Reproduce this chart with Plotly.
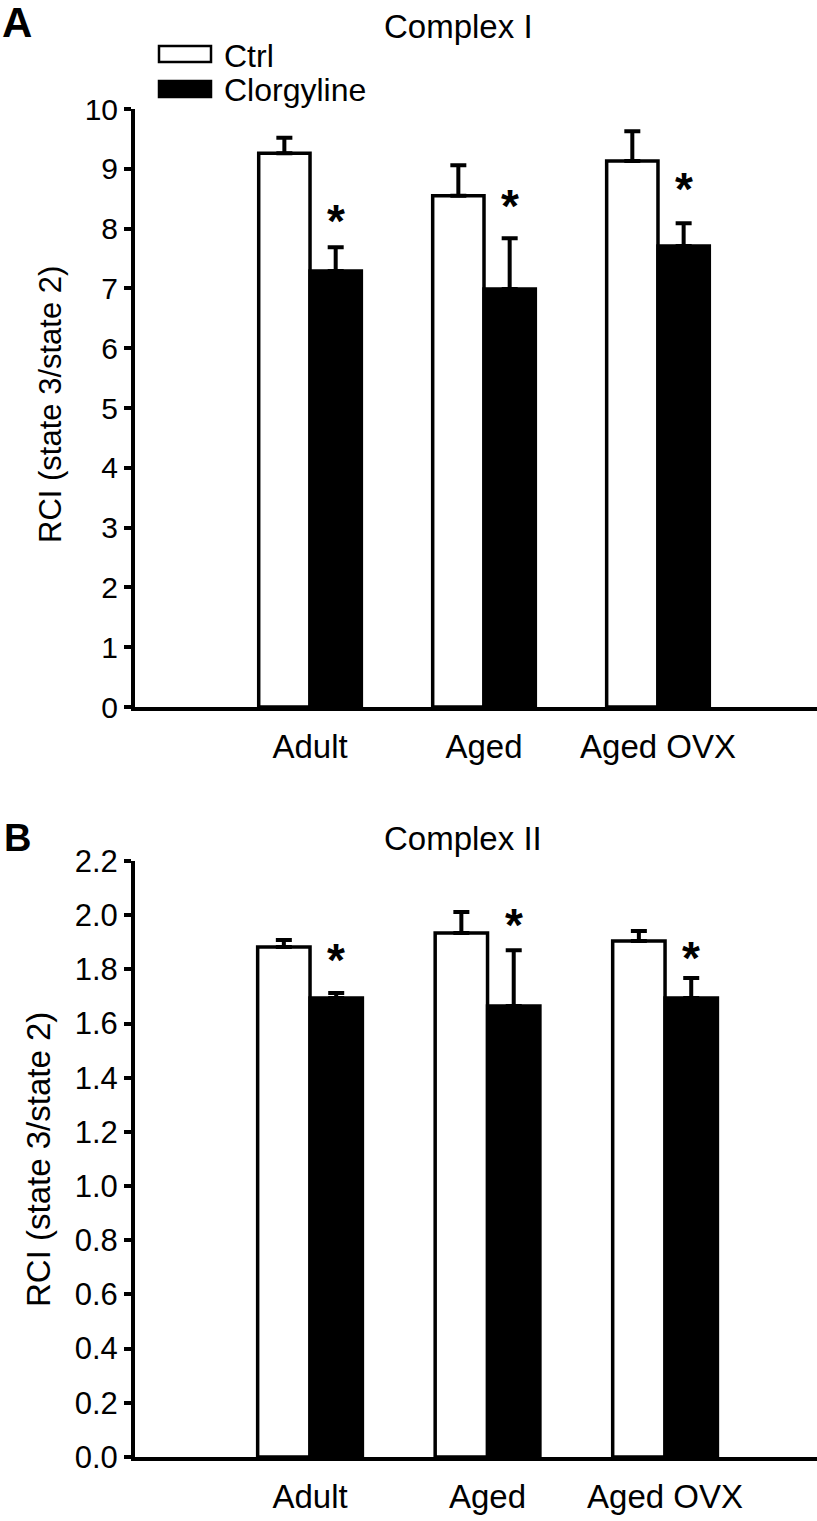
import numpy as np
import plotly.graph_objects as go

# ---------------- data ----------------
groups = ["Adult", "Aged", "Aged OVX"]
series_names = ["Ctrl", "Clorgyline"]

c1_ctrl = [9.26, 8.55, 9.13]
c1_ctrl_err = [0.26, 0.51, 0.50]
c1_clor = [7.29, 6.99, 7.71]
c1_clor_err = [0.40, 0.85, 0.38]
c1_star_y = [8.29, 8.54, 8.83]

c2_ctrl = [1.883, 1.934, 1.905]
c2_ctrl_err = [0.025, 0.078, 0.037]
c2_clor = [1.694, 1.665, 1.694]
c2_clor_err = [0.019, 0.206, 0.074]
c2_star_y = [1.871, 2.0, 1.879]

y1_ticks = list(range(0, 11))
y2_ticks = [round(0.2 * i, 1) for i in range(12)]

# ---------------- figure ----------------
W, H = 817, 1521
FONT = "Liberation Sans, Arial, sans-serif"
pos = np.arange(len(groups))
bargap = 0.41
bw = (1 - bargap) / 2

fig = go.Figure()
ann = []

def add_panel(ctrl, ctrl_err, clor, clor_err, star_y, xa, ya):
    zeros = [0] * len(groups)
    fig.add_trace(go.Bar(
        x=pos, y=ctrl, name=series_names[0], xaxis=xa, yaxis=ya,
        marker=dict(color="white", line=dict(color="black", width=3.5)),
        error_y=dict(type="data", symmetric=False, array=ctrl_err, arrayminus=zeros,
                     color="black", thickness=4, width=8),
        showlegend=False, offsetgroup="a"))
    fig.add_trace(go.Bar(
        x=pos, y=clor, name=series_names[1], xaxis=xa, yaxis=ya,
        marker=dict(color="black", line=dict(color="black", width=3.5)),
        error_y=dict(type="data", symmetric=False, array=clor_err, arrayminus=zeros,
                     color="black", thickness=4, width=8),
        showlegend=False, offsetgroup="b"))
    # significance asterisks above the Clorgyline bars
    for xv, yv in zip(pos + bw / 2, star_y):
        ann.append(dict(x=xv, y=yv, xref=xa, yref=ya, text="<b>*</b>",
                        showarrow=False, xanchor="center", yanchor="middle",
                        yshift=-10, font=dict(family=FONT, size=46, color="black")))

add_panel(c1_ctrl, c1_ctrl_err, c1_clor, c1_clor_err, c1_star_y, "x", "y")
add_panel(c2_ctrl, c2_ctrl_err, c2_clor, c2_clor_err, c2_star_y, "x2", "y2")

xd = [135 / W, 1.0]
ax_common = dict(showline=True, linecolor="black", linewidth=4, showgrid=False,
                 zeroline=False, ticks="", tickmode="array", tickvals=list(pos),
                 ticktext=groups, tickfont=dict(family=FONT, size=33, color="black"),
                 ticklabelstandoff=7, fixedrange=True, automargin=False)
ay_common = dict(showline=True, linecolor="black", linewidth=4, showgrid=False,
                 zeroline=False, ticks="outside", ticklen=7, tickwidth=4,
                 tickcolor="black", ticklabelstandoff=0, fixedrange=True,
                 automargin=False)

fig.update_layout(
    template="none",
    width=W, height=H, margin=dict(l=0, r=0, t=0, b=0, pad=0, autoexpand=False),
    paper_bgcolor="white", plot_bgcolor="white",
    barmode="group", bargap=bargap, bargroupgap=0,
    xaxis=dict(domain=xd, range=[-1.006, 2.914], anchor="y", **ax_common),
    yaxis=dict(domain=[1 - 707 / H, 1 - 109 / H], range=[0, 10], anchor="x",
               tickvals=y1_ticks, ticktext=[str(v) for v in y1_ticks],
               tickfont=dict(family=FONT, size=30, color="black"), **ay_common),
    xaxis2=dict(domain=xd, range=[-0.986, 2.856], anchor="y2", **ax_common),
    yaxis2=dict(domain=[1 - 1457 / H, 1 - 861 / H], range=[0, 2.2], anchor="x2",
                tickvals=y2_ticks, ticktext=[f"{v:.1f}" for v in y2_ticks],
                tickfont=dict(family=FONT, size=31, color="black"), **ay_common),
)

# legend drawn manually (large boxes like the original)
fig.add_shape(type="rect", xref="paper", yref="paper",
              x0=159 / W, x1=211 / W, y0=1 - 62 / H, y1=1 - 46 / H,
              line=dict(color="black", width=2.5), fillcolor="white")
fig.add_shape(type="rect", xref="paper", yref="paper",
              x0=159 / W, x1=211 / W, y0=1 - 97 / H, y1=1 - 81 / H,
              line=dict(color="black", width=2.5), fillcolor="black")

def text(x, y, s, size, xanchor="center", bold=False, angle=0):
    ann.append(dict(x=x / W, y=1 - y / H, xref="paper", yref="paper", text=s,
                    showarrow=False, xanchor=xanchor, yanchor="middle", textangle=angle,
                    font=dict(family=FONT, size=size, color="black",
                              weight="bold" if bold else "normal")))

text(222, 56, series_names[0], 32, xanchor="left")
text(222, 90, series_names[1], 32, xanchor="left")
text(459, 26, "Complex I", 33)
text(463, 838, "Complex II", 33)
text(17, 22, "A", 42, bold=True)
text(17, 838, "B", 38, bold=True)
text(50, 405, "RCI (state 3/state 2)", 31, angle=-90)
text(38, 1160, "RCI (state 3/state 2)", 33, angle=-90)
fig.update_layout(annotations=ann)

fig.write_html("out.html", config={"displayModeBar": False},
               post_script="document.body.style.margin='0';document.body.style.padding='0';")
